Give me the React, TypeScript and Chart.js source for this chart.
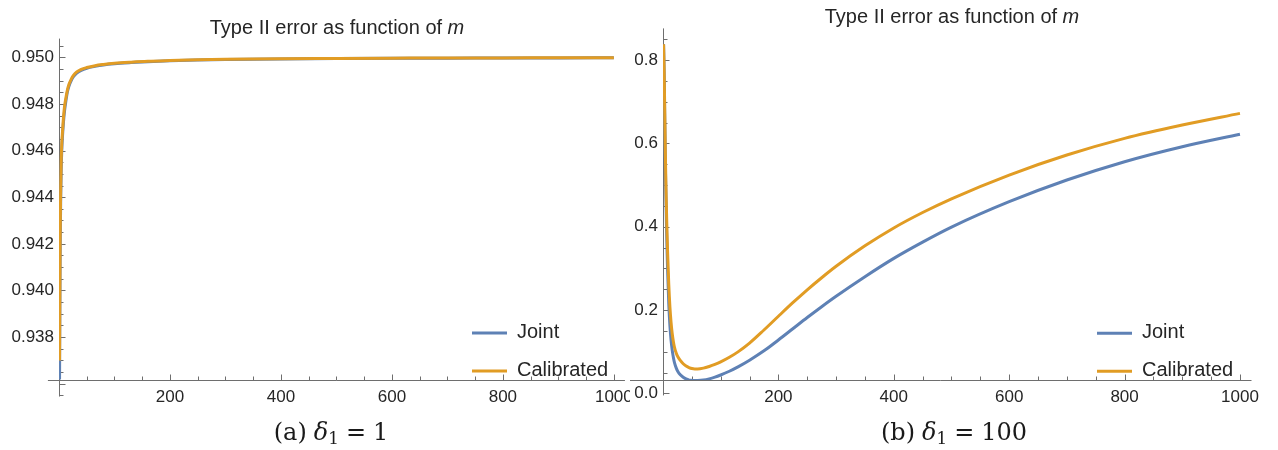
import React, { useEffect, useRef } from 'react';
import { Chart, registerables } from 'chart.js';

Chart.register(...registerables);

const BLUE = '#5E81B5';
const ORANGE = '#E19C24';
const AXIS = '#6e6e6e';
const TEXT = '#262626';
const FONT = '"Liberation Sans", Arial, sans-serif';

const seriesNames = ['Joint', 'Calibrated'];
const titleText = 'Type II error as function of ';
const titleVar = 'm';

// (a) delta_1 = 1
const mA = [1, 2, 3, 4, 5, 6, 8, 10, 12, 15, 18, 22, 26, 32, 40, 50, 65, 80, 100, 130, 160, 200, 250, 300, 400, 500, 600, 700, 800, 900, 1000];
const jointA = [0.93618, 0.9412, 0.9438, 0.9452, 0.946, 0.9465, 0.9472, 0.9477, 0.94805, 0.9485, 0.94877, 0.949, 0.94917, 0.94932, 0.94944, 0.94953, 0.94961, 0.94967, 0.94972, 0.94977, 0.94981, 0.94985, 0.94988, 0.9499, 0.94993, 0.94995, 0.94996, 0.94996, 0.94997, 0.94997, 0.94998];
const calibA = [0.937, 0.942, 0.9443, 0.9456, 0.9463, 0.9467, 0.9474, 0.9479, 0.9482, 0.94858, 0.94884, 0.94906, 0.94922, 0.94937, 0.94948, 0.94956, 0.94964, 0.94969, 0.94974, 0.94979, 0.94983, 0.94986, 0.94989, 0.94991, 0.94994, 0.94995, 0.94996, 0.94997, 0.94997, 0.94998, 0.94998];

// (b) delta_1 = 100
const mB = [1, 2, 3, 4, 5, 6, 7, 8, 10, 12, 14, 16, 18, 20, 23, 26, 30, 35, 40, 45, 50, 55, 60, 70, 80, 90, 100, 115, 130, 150, 175, 200, 225, 250, 275, 300, 350, 400, 450, 500, 600, 700, 800, 900, 1000];
const jointB = [0.838, 0.77, 0.665, 0.56, 0.475, 0.405, 0.345, 0.295, 0.215, 0.162, 0.127, 0.103, 0.086, 0.073, 0.0605, 0.052, 0.0445, 0.0385, 0.0345, 0.032, 0.031, 0.0305, 0.0307, 0.032, 0.0348, 0.0388, 0.044, 0.053, 0.0635, 0.0795, 0.102, 0.128, 0.155, 0.182, 0.208, 0.233, 0.28, 0.324, 0.363, 0.399, 0.46, 0.512, 0.556, 0.592, 0.622];
const calibB = [0.838, 0.775, 0.68, 0.585, 0.505, 0.44, 0.385, 0.338, 0.262, 0.207, 0.17, 0.143, 0.124, 0.11, 0.096, 0.087, 0.079, 0.071, 0.0655, 0.062, 0.0595, 0.0585, 0.0585, 0.0605, 0.0645, 0.0695, 0.0755, 0.0865, 0.0995, 0.1205, 0.152, 0.185, 0.2175, 0.2485, 0.2775, 0.305, 0.354, 0.397, 0.434, 0.467, 0.524, 0.572, 0.612, 0.644, 0.672];

const xTickLabels = [200, 400, 600, 800, 1000];
const yTicksA = [0.938, 0.94, 0.942, 0.944, 0.946, 0.948, 0.95];
const yTicksB = [0, 0.2, 0.4, 0.6, 0.8];

function pts(xs: number[], ys: number[]) {
  return xs.map((x, i) => ({ x, y: ys[i] }));
}

function steps(from: number, to: number, step: number): number[] {
  const out: number[] = [];
  const n = Math.round((to - from) / step);
  for (let i = 0; i <= n; i++) out.push(from + i * step);
  return out;
}

const axesPlugin = {
  id: 'mmaAxes',
  beforeDatasetsDraw(chart: any, _a: any, o: any) {
    const { ctx } = chart;
    const xs = chart.scales.x;
    const ys = chart.scales.y;
    const px = (v: number) => xs.getPixelForValue(v);
    const py = (v: number) => ys.getPixelForValue(v);
    const ax = Math.round(px(o.originX)) + 0.5;
    const ay = Math.round(py(o.originY)) + 0.5;
    ctx.save();
    ctx.strokeStyle = AXIS;
    ctx.lineWidth = 1;
    ctx.beginPath();
    ctx.moveTo(px(o.xFrom), ay);
    ctx.lineTo(px(o.xTo), ay);
    ctx.moveTo(ax, py(o.yFrom));
    ctx.lineTo(ax, py(o.yTo));
    const isMajor = (v: number, list: number[], eps: number) => list.some((m) => Math.abs(m - v) < eps);
    for (const t of o.xTicks as number[]) {
      const len = isMajor(t, o.xMajor, 1e-6) ? 6 : 4;
      const x = Math.round(px(t)) + 0.5;
      ctx.moveTo(x, ay);
      ctx.lineTo(x, ay - len);
    }
    for (const t of o.yTicks as number[]) {
      const len = isMajor(t, o.yMajor, o.yEps) ? 6 : 4;
      const y = Math.round(py(t)) + 0.5;
      ctx.moveTo(ax, y);
      ctx.lineTo(ax + len, y);
    }
    ctx.stroke();
    ctx.restore();
  },
};

const titlePlugin = {
  id: 'mmaTitle',
  afterDraw(chart: any, _a: any, o: any) {
    const ctx = chart.ctx;
    ctx.save();
    const f1 = `20px ${FONT}`;
    const f2 = `italic 20px ${FONT}`;
    ctx.font = f1;
    const w1 = ctx.measureText(titleText).width;
    ctx.font = f2;
    const w2 = ctx.measureText(titleVar).width;
    const x = o.cx - (w1 + w2) / 2;
    ctx.fillStyle = TEXT;
    ctx.textAlign = 'left';
    ctx.textBaseline = 'alphabetic';
    ctx.font = f1;
    ctx.fillText(titleText, x, o.baseline);
    ctx.font = f2;
    ctx.fillText(titleVar, x + w1, o.baseline);
    ctx.restore();
  },
};

const legendPlugin = {
  id: 'mmaLegend',
  afterDraw(chart: any, _a: any, o: any) {
    const ctx = chart.ctx;
    ctx.save();
    chart.data.datasets.forEach((ds: any, i: number) => {
      const y = o.y0 + i * o.dy;
      ctx.strokeStyle = ds.borderColor;
      ctx.lineWidth = 3;
      ctx.beginPath();
      ctx.moveTo(o.x, y);
      ctx.lineTo(o.x + 35, y);
      ctx.stroke();
      ctx.fillStyle = TEXT;
      ctx.font = `20px ${FONT}`;
      ctx.textAlign = 'left';
      ctx.textBaseline = 'middle';
      ctx.fillText(ds.label, o.x + 45, y - 1);
    });
    ctx.restore();
  },
};

function makeConfig(p: any): any {
  return {
    type: 'line',
    data: {
      datasets: [
        { label: seriesNames[0], data: pts(p.m, p.joint), borderColor: BLUE, borderWidth: 3, pointRadius: 0, cubicInterpolationMode: 'monotone', fill: false, order: 2 },
        { label: seriesNames[1], data: pts(p.m, p.calib), borderColor: ORANGE, borderWidth: 3, pointRadius: 0, cubicInterpolationMode: 'monotone', fill: false, order: 1 },
      ],
    },
    options: {
      responsive: false,
      animation: false,
      events: [],
      layout: { padding: { top: p.padTop, right: p.padRight, left: 0, bottom: 0 } },
      scales: {
        x: {
          type: 'linear',
          min: 0,
          max: 1020,
          afterFit: (s: any) => { s.height = p.xAxisH; },
          afterBuildTicks: (s: any) => { s.ticks = xTickLabels.map((v) => ({ value: v })); },
          grid: { display: false, drawTicks: false },
          border: { display: false },
          ticks: { font: { family: FONT, size: 17 }, color: TEXT, padding: p.xPad, maxRotation: 0, minRotation: 0, autoSkip: false, callback: (v: any) => String(v) },
        },
        y: {
          type: 'linear',
          min: p.yMin,
          max: p.yMax,
          afterFit: (s: any) => { s.width = p.yAxisW; },
          afterBuildTicks: (s: any) => { s.ticks = p.yTicks.map((v: number) => ({ value: v })); },
          grid: { display: false, drawTicks: false },
          border: { display: false },
          ticks: { font: { family: FONT, size: 17 }, color: TEXT, padding: 5, autoSkip: false, callback: (v: any) => Number(v).toFixed(p.dec) },
        },
      },
      plugins: {
        legend: { display: false },
        title: { display: false },
        tooltip: { enabled: false },
        mmaAxes: p.axes,
        mmaTitle: p.title,
        mmaLegend: p.legend,
      },
    },
    plugins: [axesPlugin, titlePlugin, legendPlugin],
  };
}

const xAllTicks = steps(50, 1000, 50);

export default function App() {
  const leftRef = useRef<HTMLCanvasElement>(null);
  const rightRef = useRef<HTMLCanvasElement>(null);

  useEffect(() => {
    const c1 = new Chart(leftRef.current as HTMLCanvasElement, makeConfig({
      m: mA, joint: jointA, calib: calibA,
      padTop: 38.6, padRight: 12.3, xAxisH: 70, yAxisW: 59, xPad: 7,
      yMin: 0.93616, yMax: 0.9508, yTicks: yTicksA, dec: 3,
      axes: {
        originX: 0, originY: 0.93616, xFrom: -20, xTo: 1020, yFrom: 0.93545, yTo: 0.9508,
        xTicks: xAllTicks, xMajor: xTickLabels,
        yTicks: steps(0.9355, 0.9505, 0.0005), yMajor: [0.936, ...yTicksA], yEps: 1e-7,
      },
      title: { cx: 337, baseline: 34 },
      legend: { x: 472, y0: 333, dy: 38 },
    }));
    const c2 = new Chart(rightRef.current as HTMLCanvasElement, makeConfig({
      m: mB, joint: jointB, calib: calibB,
      padTop: 28.4, padRight: 26.5, xAxisH: 70, yAxisW: 33, xPad: 7,
      yMin: 0.032, yMax: 0.876, yTicks: yTicksB, dec: 1,
      axes: {
        originX: 0, originY: 0.032, xFrom: -60, xTo: 1020, yFrom: -0.005, yTo: 0.876,
        xTicks: xAllTicks, xMajor: xTickLabels,
        yTicks: steps(0, 0.85, 0.05), yMajor: yTicksB, yEps: 1e-6,
      },
      title: { cx: 322, baseline: 23.3 },
      legend: { x: 467, y0: 333.3, dy: 38 },
    }));
    return () => { c1.destroy(); c2.destroy(); };
  }, []);

  const capStyle: React.CSSProperties = {
    position: 'absolute', top: 418, width: 300, height: 28, lineHeight: '28px', textAlign: 'center',
    fontFamily: '"DejaVu Serif", "Liberation Serif", serif', fontSize: 24, color: '#1a1a1a', whiteSpace: 'nowrap',
  };
  const sub: React.CSSProperties = { fontSize: '70%', verticalAlign: '-0.25em', lineHeight: 0 };
  const gap: React.CSSProperties = { display: 'inline-block', width: 7 };

  return (
    <div style={{ position: 'fixed', left: 0, top: 0, width: 1278, height: 450, background: '#fff', overflow: 'hidden' }}>
      <canvas ref={leftRef} width={640} height={450} style={{ position: 'absolute', left: 0, top: 0, width: 640, height: 450 }} />
      <div style={{ position: 'absolute', left: 630, top: 0, width: 648, height: 450, background: '#fff' }}>
        <canvas ref={rightRef} width={648} height={450} style={{ position: 'absolute', left: 0, top: 0, width: 648, height: 450 }} />
      </div>
      <div style={{ ...capStyle, left: 181 }}>
        (a)<span style={gap} /><i>δ</i><span style={sub}>1</span><span style={gap} />=<span style={gap} />1
      </div>
      <div style={{ ...capStyle, left: 804 }}>
        (b)<span style={gap} /><i>δ</i><span style={sub}>1</span><span style={gap} />=<span style={gap} />100
      </div>
    </div>
  );
}
